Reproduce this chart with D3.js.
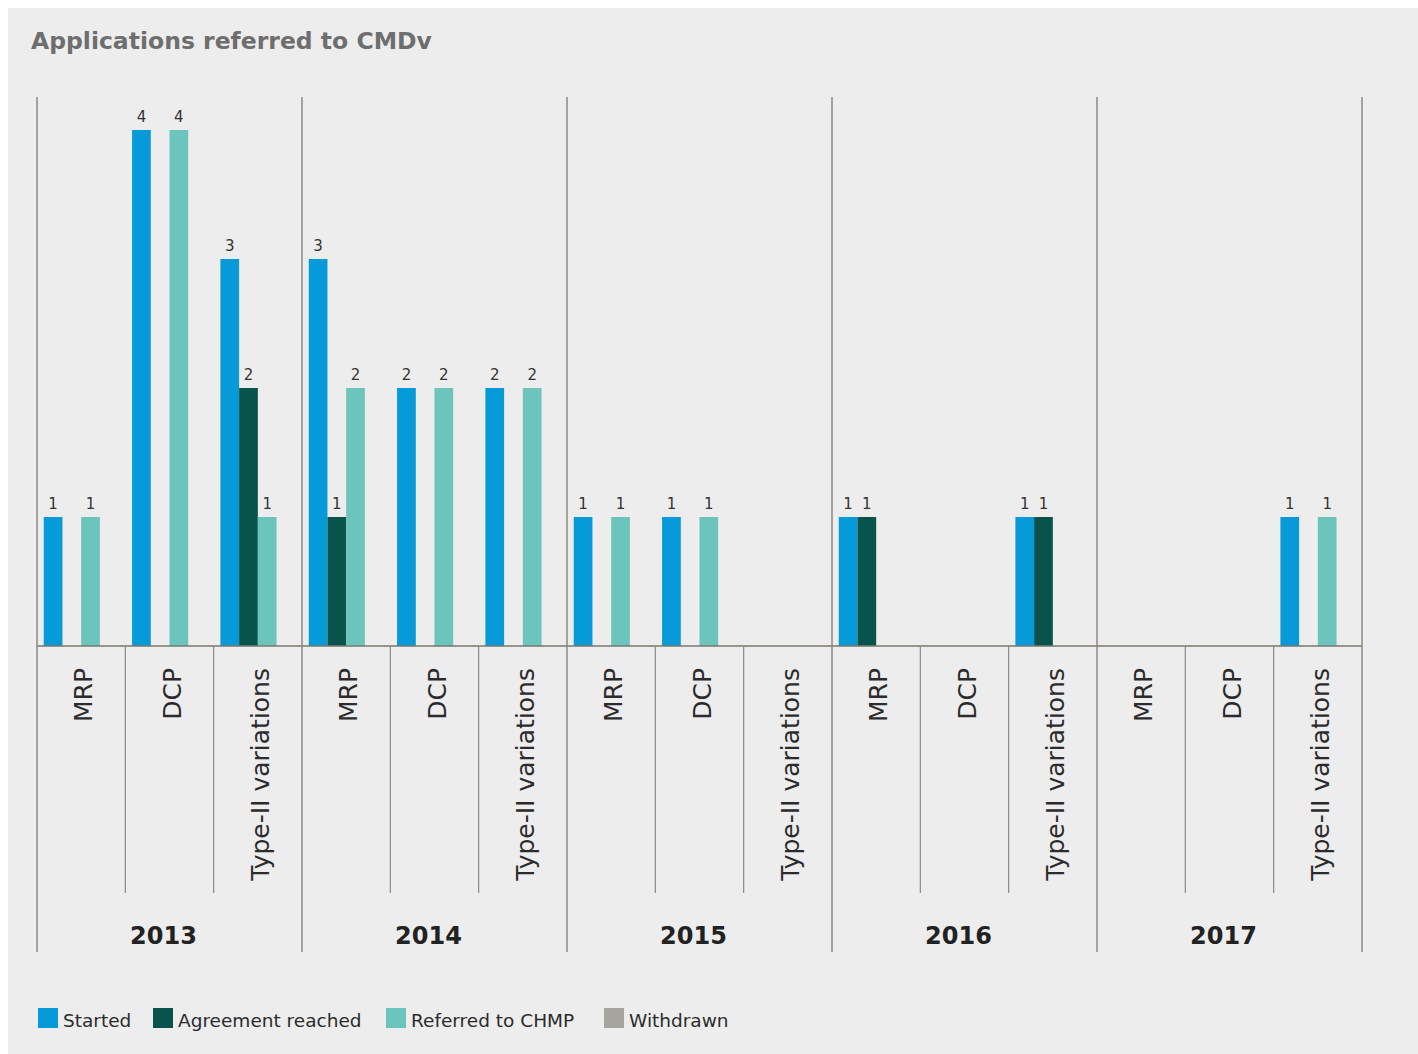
<!DOCTYPE html>
<html>
<head>
<meta charset="utf-8">
<script src="https://cdn.jsdelivr.net/npm/d3@7/dist/d3.min.js"></script>
<style>
  html, body { margin: 0; padding: 0; background: #ffffff; }
  svg { display: block; }
</style>
</head>
<body>
<svg id="chart" width="1418" height="1054"></svg>
<script>
// Applications referred to CMDv, by year and procedure type
const years = ["2013", "2014", "2015", "2016", "2017"];
const procedures = ["MRP", "DCP", "Type-II variations"];
const series = ["Started", "Agreement reached", "Referred to CHMP", "Withdrawn"];
const colors = ["#069bd8", "#08544c", "#6cc5bd", "#a5a59e"];

// values per year, per procedure, in series order
const started   = [[1, 4, 3], [3, 2, 2], [1, 1, 0], [1, 0, 1], [0, 0, 1]];
const agreement = [[0, 0, 2], [1, 0, 0], [0, 0, 0], [1, 0, 1], [0, 0, 0]];
const referred  = [[1, 4, 1], [2, 2, 2], [1, 1, 0], [0, 0, 0], [0, 0, 1]];
const withdrawn = [[0, 0, 0], [0, 0, 0], [0, 0, 0], [0, 0, 0], [0, 0, 0]];
const seriesValues = [started, agreement, referred, withdrawn];

(function draw() {
  const svg = d3.select("#chart");
  const W = 1418, H = 1054;
  const FONT = "'DejaVu Sans', Verdana, sans-serif";

  // panel background
  svg.append("rect").attr("x", 8).attr("y", 8).attr("width", W - 8).attr("height", H - 8)
    .attr("fill", "#ededed");

  svg.append("text").attr("x", 31).attr("y", 49)
    .attr("font-family", FONT).attr("font-weight", "bold").attr("font-size", 23.5)
    .attr("fill", "#6e6e6e").text("Applications referred to CMDv");

  const plotLeft = 37, plotRight = 1362, plotTop = 97, base = 646, subBottom = 893, yearBottom = 952;

  const x0 = d3.scaleBand().domain(years).range([plotLeft, plotRight]).padding(0);
  const x1 = d3.scaleBand().domain(procedures).range([0, x0.bandwidth()]).padding(0);
  const x2 = d3.scaleBand().domain(series).range([0, x1.bandwidth()])
    .paddingInner(0).paddingOuter(0.36);
  const y = d3.scaleLinear().domain([0, 4]).range([base, 130]);

  // flatten into bar records
  const bars = [];
  years.forEach((yr, yi) => {
    procedures.forEach((pr, pi) => {
      series.forEach((s, si) => {
        bars.push({ year: yr, proc: pr, series: s, si, value: seriesValues[si][yi][pi] });
      });
    });
  });

  const lineColor = "#8a8a80";

  // bars
  const g = svg.append("g");
  g.selectAll("rect.bar").data(bars.filter(d => d.value > 0)).join("rect")
    .attr("class", "bar")
    .attr("x", d => x0(d.year) + x1(d.proc) + x2(d.series))
    .attr("width", x2.bandwidth())
    .attr("y", d => y(d.value))
    .attr("height", d => y(0) - y(d.value))
    .attr("fill", d => colors[d.si]);

  // value labels
  g.selectAll("text.val").data(bars.filter(d => d.value > 0)).join("text")
    .attr("class", "val")
    .attr("x", d => x0(d.year) + x1(d.proc) + x2(d.series) + x2.bandwidth() / 2)
    .attr("y", d => y(d.value) - 8)
    .attr("text-anchor", "middle")
    .attr("font-family", FONT).attr("font-size", 15).attr("fill", "#333333")
    .text(d => d.value);

  // baseline
  svg.append("line").attr("x1", plotLeft).attr("x2", plotRight).attr("y1", base).attr("y2", base)
    .attr("stroke", "#77776b").attr("stroke-width", 1.5);

  // year separators
  const yearEdges = years.map(yr => x0(yr)).concat([plotRight]);
  svg.selectAll("line.yr").data(yearEdges).join("line")
    .attr("class", "yr")
    .attr("x1", d => d).attr("x2", d => d).attr("y1", plotTop).attr("y2", yearBottom)
    .attr("stroke", lineColor).attr("stroke-width", 1.5);

  // procedure separators inside each year
  const subEdges = [];
  years.forEach(yr => procedures.slice(1).forEach(pr => subEdges.push(x0(yr) + x1(pr))));
  svg.selectAll("line.sub").data(subEdges).join("line")
    .attr("class", "sub")
    .attr("x1", d => d).attr("x2", d => d).attr("y1", base).attr("y2", subBottom)
    .attr("stroke", lineColor).attr("stroke-width", 1.2);

  // rotated procedure labels
  const procLabels = [];
  years.forEach(yr => procedures.forEach(pr => procLabels.push({ yr, pr })));
  svg.selectAll("text.proc").data(procLabels).join("text")
    .attr("class", "proc")
    .attr("transform", d => `translate(${x0(d.yr) + x1(d.pr) + x1.bandwidth() / 2 + 11},668) rotate(-90)`)
    .attr("text-anchor", "end")
    .attr("font-family", FONT).attr("font-size", 25).attr("fill", "#2b2b2b")
    .text(d => d.pr);

  // year labels
  svg.selectAll("text.year").data(years).join("text")
    .attr("class", "year")
    .attr("x", d => x0(d) + x0.bandwidth() / 2 - 6)
    .attr("y", 944)
    .attr("text-anchor", "middle")
    .attr("font-family", FONT).attr("font-weight", "bold").attr("font-size", 24)
    .attr("fill", "#222222").text(d => d);

  // legend
  const legendX = [38, 153, 386, 604];
  const lg = svg.selectAll("g.leg").data(series).join("g")
    .attr("class", "leg")
    .attr("transform", (d, i) => `translate(${legendX[i]},1008)`);
  lg.append("rect").attr("width", 20).attr("height", 20).attr("fill", (d, i) => colors[i]);
  lg.append("text").attr("x", 25).attr("y", 19)
    .attr("font-family", FONT).attr("font-size", 18.5).attr("fill", "#2b2b2b")
    .text(d => d);
})();
</script>
</body>
</html>
